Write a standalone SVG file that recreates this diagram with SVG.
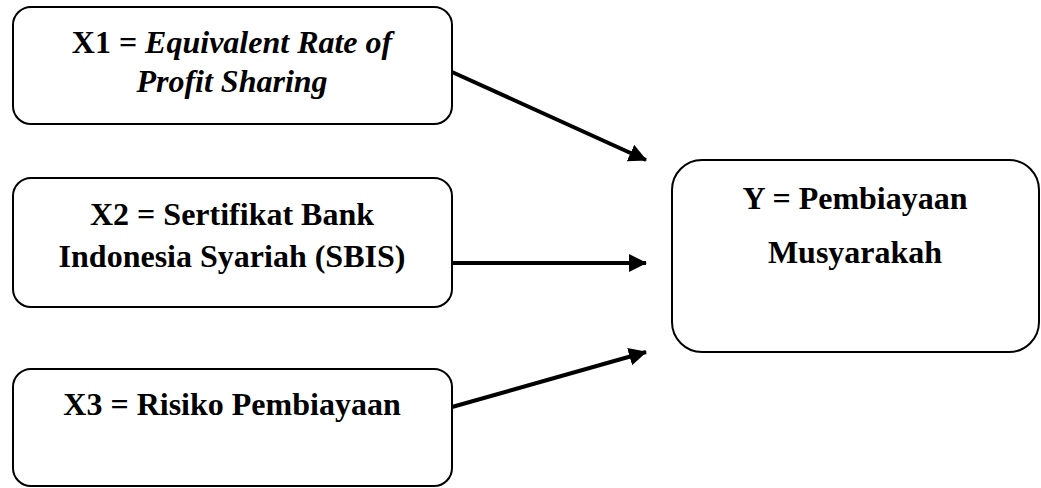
<svg xmlns="http://www.w3.org/2000/svg" width="1041" height="488" viewBox="0 0 1041 488">
  <style>
    .box { fill: #ffffff; stroke: #000000; stroke-width: 2; }
    .lbl { font-size: 32px; font-weight: bold; fill: #000000; text-anchor: middle; }
    .it { font-style: italic; }
    .conn { stroke: #000000; stroke-width: 4; fill: none; }
  </style>
  <defs>
    <marker id="arrow" markerUnits="userSpaceOnUse" markerWidth="20" markerHeight="20" refX="17" refY="9" orient="auto">
      <path d="M0,0 L18,9 L0,18 Z" fill="#000000"/>
    </marker>
  </defs>
  <rect width="1041" height="488" fill="#ffffff"/>

  <g id="node-x1" font-family="'Liberation Serif', 'DejaVu Serif', serif">
    <rect class="box" x="13" y="7" width="439" height="117" rx="18" ry="18"/>
    <text class="lbl" x="232" y="53">X1 = <tspan class="it">Equivalent Rate of</tspan></text>
    <text class="lbl it" x="232" y="92">Profit Sharing</text>
  </g>

  <g id="node-x2" font-family="'Liberation Serif', 'DejaVu Serif', serif">
    <rect class="box" x="13" y="178" width="439" height="129" rx="18" ry="18"/>
    <text class="lbl" x="232" y="225">X2 = Sertifikat Bank</text>
    <text class="lbl" x="232" y="267">Indonesia Syariah (SBIS)</text>
  </g>

  <g id="node-x3" font-family="'Liberation Serif', 'DejaVu Serif', serif">
    <rect class="box" x="13" y="369" width="439" height="117" rx="18" ry="18"/>
    <text class="lbl" x="232" y="415">X3 = Risiko Pembiayaan</text>
  </g>

  <g id="node-y" font-family="'Liberation Serif', 'DejaVu Serif', serif">
    <rect class="box" x="672" y="160" width="367" height="192" rx="30" ry="30"/>
    <text class="lbl" x="855" y="209">Y = Pembiayaan</text>
    <text class="lbl" x="855" y="263">Musyarakah</text>
  </g>

  <g id="connectors">
    <line class="conn" x1="452" y1="72" x2="646" y2="160" marker-end="url(#arrow)"/>
    <line class="conn" x1="452" y1="263" x2="646" y2="263" marker-end="url(#arrow)"/>
    <line class="conn" x1="452" y1="407" x2="646" y2="352" marker-end="url(#arrow)"/>
  </g>
</svg>
